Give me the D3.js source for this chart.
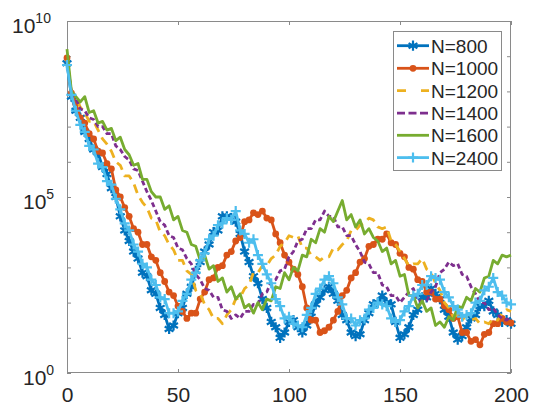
<!DOCTYPE html>
<html><head><meta charset="utf-8">
<script src="https://cdn.jsdelivr.net/npm/d3@7"></script>
<style>
body{margin:0;background:#fff}
svg{display:block}
text{font-family:"Liberation Sans",Arial,Helvetica,sans-serif;fill:#262626}
</style>
</head><body><svg id="c" width="536" height="408"></svg>
<script>
// x positions (iteration index)
const xSteps = [0,2,4,6,8,10,12,14,16,18,20,22,24,26,28,30,32,34,36,38,40,42,44,46,48,50,52,54,56,58,60,62,64,66,68,70,72,74,76,78,80,82,84,86,88,90,92,94,96,98,100,102,104,106,108,110,112,114,116,118,120,122,124,126,128,130,132,134,136,138,140,142,144,146,148,150,152,154,156,158,160,162,164,166,168,170,172,174,176,178,180,182,184,186,188,190,192,194,196,198,200];

// series values as log10 exponents (value = 10^e)
const n800 = [8.8,7.85,7.45,7.25,6.85,6.65,6.35,6.25,5.85,5.65,
5.25,5.0,4.45,4.05,3.75,3.45,3.25,2.85,2.75,2.35,
2.25,1.85,1.65,1.25,1.35,1.7,1.85,2.25,2.45,2.9,
3.15,3.45,3.65,4.0,4.05,4.45,4.45,4.4,4.3,3.95,
3.45,3.15,2.75,2.55,2.1,1.85,1.45,1.3,1.0,1.15,
1.45,1.5,1.3,1.15,1.35,1.6,1.95,2.15,2.35,2.45,
2.25,2.05,1.65,1.5,1.15,1.05,1.1,1.5,1.7,1.95,
2.0,2.2,2.0,1.95,1.45,1.0,1.1,1.3,1.65,1.8,
2.15,2.15,2.4,2.25,2.1,1.8,1.6,1.15,0.95,1.05,
1.3,1.55,1.65,1.9,1.9,2.05,1.75,1.65,1.45,1.5,1.4];

const n1000 = [8.95,7.95,7.65,7.25,7.1,6.8,6.65,6.3,6.25,5.95,
5.8,5.2,5.0,4.7,4.45,4.1,4.0,3.65,3.65,3.3,
3.2,2.85,2.6,2.3,2.2,1.9,1.75,1.55,1.7,1.7,
2.1,2.3,2.65,2.7,3.0,3.05,3.35,3.45,3.75,3.85,
4.3,4.35,4.55,4.5,4.6,4.4,4.35,3.95,3.7,3.35,
3.15,2.95,2.8,2.45,1.85,1.5,1.5,1.15,1.2,1.3,
1.5,1.75,2.2,2.35,2.7,2.85,3.15,3.25,3.6,3.65,
3.8,3.8,3.95,3.7,3.65,3.4,3.3,3.0,2.95,2.65,
2.6,2.3,2.3,2.1,2.1,1.9,1.8,1.55,1.6,1.15,
1.15,0.9,0.95,0.8,1.1,1.15,1.4,1.4,1.55,1.45,1.42];

const n1200 = [8.9,7.95,7.85,7.55,7.4,7.15,7.15,6.9,6.65,6.5,
6.3,6.0,5.9,5.6,5.6,5.4,5.05,4.85,4.7,4.4,
4.35,4.0,3.9,3.65,3.5,3.2,3.2,2.9,2.8,2.35,
2.25,1.95,1.8,1.55,1.55,1.4,1.65,1.8,2.1,2.15,
2.4,2.5,2.85,2.85,3.05,3.05,3.25,3.35,3.6,3.7,
3.9,3.85,3.9,3.55,3.55,3.35,3.3,3.2,3.3,3.3,
3.55,3.5,3.65,3.75,4.05,4.05,4.2,4.25,4.4,4.35,
4.15,4.1,4.15,3.75,3.65,3.45,3.25,3.05,3.1,3.1,
3.25,2.95,2.85,2.55,2.35,2.0,1.85,1.6,1.65,1.5,
1.65,1.5,1.55,1.4,1.45,1.4,1.55,1.5,1.7,1.8,1.75];

const n1400 = [8.85,7.95,7.8,7.5,7.45,7.25,7.2,7.0,7.0,6.8,
6.8,6.45,6.35,6.15,6.05,5.8,5.75,5.45,5.15,4.9,
4.6,4.3,4.2,3.9,3.85,3.55,3.5,3.25,3.1,2.8,
2.65,2.4,2.35,2.15,2.15,1.8,1.75,1.55,1.65,1.55,
1.75,1.75,1.95,1.95,2.25,2.3,2.6,2.65,2.9,2.95,
3.3,3.45,3.75,3.8,4.1,4.1,4.35,4.35,4.6,4.45,
4.45,4.15,4.15,3.9,3.9,3.65,3.45,3.15,3.1,2.85,
2.85,2.5,2.45,2.2,2.2,2.0,2.15,2.3,2.4,2.05,
2.05,2.05,2.3,2.45,2.85,2.95,3.15,3.05,3.1,2.8,
2.75,2.45,2.25,2.0,2.0,1.8,1.85,1.65,1.55,1.5,1.6];

const n1600 = [9.2,8.0,7.85,7.7,7.85,7.4,7.45,7.1,7.15,6.9,
6.95,6.6,6.7,6.35,6.2,5.9,5.95,5.5,5.5,5.15,
5.0,5.0,4.65,4.75,4.35,4.45,4.05,4.0,3.65,3.6,
3.2,3.35,2.95,3.05,2.6,2.7,2.3,2.45,2.1,2.25,
1.85,1.95,1.7,2.0,1.8,2.1,2.05,2.45,2.4,2.85,
2.65,3.0,2.9,3.35,3.3,3.8,3.7,4.1,4.0,4.45,
4.3,4.6,4.9,4.35,4.5,4.15,4.35,3.95,4.1,3.85,
3.75,3.45,3.55,3.1,3.2,2.75,2.8,2.2,2.2,1.85,
2.05,1.75,1.85,1.35,1.45,1.3,1.6,1.5,1.9,1.85,
2.15,2.05,2.4,2.3,2.7,2.75,3.2,3.1,3.35,3.3,3.35];

const n2400 = [8.75,7.9,7.45,7.05,6.85,6.45,6.35,5.95,5.85,5.45,
5.35,4.95,4.65,4.25,4.05,3.65,3.45,3.1,3.0,2.65,
2.5,2.15,2.1,1.7,1.7,1.75,2.05,2.25,2.65,2.85,
3.2,3.4,3.8,3.9,4.2,4.25,4.4,4.35,4.6,4.05,
3.95,3.7,3.8,3.35,3.1,2.8,2.55,2.1,1.9,1.55,
1.6,1.4,1.35,1.3,1.65,1.85,2.25,2.4,2.65,2.75,
2.55,2.15,1.95,1.55,1.55,1.35,1.5,1.55,1.8,1.85,
2.0,1.95,1.9,1.55,1.45,1.5,1.75,1.9,2.2,2.25,
2.5,2.5,2.75,2.7,2.65,2.3,2.15,1.9,1.8,1.6,
1.65,1.7,2.0,2.05,2.35,2.45,2.7,2.3,2.2,2.0,1.95];

const seriesNames = ["N=800","N=1000","N=1200","N=1400","N=1600","N=2400"];
const seriesValues = [n800,n1000,n1200,n1400,n1600,n2400];
const xTickValues = [0,50,100,150,200];
const yLabelExps = [0,5,10];
const yTickExps = [0,1,2,3,4,5,6,7,8,9,10];

const colors = ["#0072BD","#D95319","#EDB120","#7E2F8E","#77AC30","#4DBEEE"];
const dashes = [null,null,"9,6","5,3",null,null];
const legendDashes = [null,null,"9,15","8,3.5",null,null];
const markers = ["asterisk","circle",null,null,null,"plus"];

const svg = d3.select("#c");
const L=67, T=21, R=511, B=373;
const x = d3.scaleLinear().domain([0,200]).range([L,R]);
const y = d3.scaleLog().domain([1,1e10]).range([B,T]);

const axisColor = "#8a8a8a";
const gB = svg.append("g").attr("transform",`translate(0,${B})`)
  .call(d3.axisBottom(x).tickValues(xTickValues).tickSize(-4).tickPadding(14).tickFormat(d3.format("d")));
gB.selectAll("text").style("font-size","21px").attr("fill","#262626");
const gT = svg.append("g").attr("transform",`translate(0,${T})`)
  .call(d3.axisTop(x).tickValues(xTickValues).tickSize(-4).tickFormat(""));
const yTickVals = yTickExps.map(e=>Math.pow(10,e));
const gL = svg.append("g").attr("transform",`translate(${L},0)`)
  .call(d3.axisLeft(y).tickValues(yTickVals).tickSize(-4).tickFormat(""));
const gR = svg.append("g").attr("transform",`translate(${R},0)`)
  .call(d3.axisRight(y).tickValues(yTickVals).tickSize(-4).tickFormat(""));
[gB,gT,gL,gR].forEach(g=>{
  g.select(".domain").remove();
  g.selectAll(".tick line").attr("stroke",axisColor).attr("stroke-width",1);
});

yLabelExps.forEach(e=>{
  const py = y(Math.pow(10,e));
  const sx = String(e).length>1 ? 12 : 23;
  const t = svg.append("text").attr("x",sx).attr("y",py+12).style("font-size","21px");
  t.append("tspan").text("10");
  t.append("tspan").attr("dy",-10).style("font-size","14px").text(String(e));
});

svg.append("rect").attr("x",L+0.5).attr("y",T+0.5).attr("width",R-L-1).attr("height",B-T-1)
  .attr("fill","none").attr("stroke",axisColor).attr("stroke-width",1);

const symAsterisk = {draw(ctx,size){const r=Math.sqrt(size)*0.6;const t=r/2,u=t*Math.sqrt(3);
  ctx.moveTo(0,r);ctx.lineTo(0,-r);ctx.moveTo(-u,-t);ctx.lineTo(u,t);ctx.moveTo(-u,t);ctx.lineTo(u,-t);}};
const symPlus = {draw(ctx,size){const r=Math.sqrt(size)*0.6;
  ctx.moveTo(-r,0);ctx.lineTo(r,0);ctx.moveTo(0,-r);ctx.lineTo(0,r);}};

const line = d3.line().x((d,i)=>x(xSteps[i])).y(d=>y(Math.pow(10,d)));

function drawMarkers(g, pts, k){
  const m = markers[k];
  if(!m) return;
  if(m==="circle"){
    g.selectAll("circle.m").data(pts).join("circle").attr("class","m")
      .attr("cx",d=>d[0]).attr("cy",d=>d[1]).attr("r",3.4).attr("fill",colors[k]);
  } else {
    const p = d3.symbol().type(m==="asterisk"?symAsterisk:symPlus).size(m==="asterisk"?72:70)();
    g.selectAll("path.m").data(pts).join("path").attr("class","m")
      .attr("transform",d=>`translate(${d[0]},${d[1]})`).attr("d",p)
      .attr("fill","none").attr("stroke",colors[k]).attr("stroke-width",2.2);
  }
}

seriesValues.forEach((vals,k)=>{
  const g = svg.append("g");
  g.append("path").attr("d",line(vals)).attr("fill","none").attr("stroke",colors[k])
    .attr("stroke-width",2.8).attr("stroke-linejoin","round")
    .attr("stroke-dasharray",dashes[k]);
  const pts = vals.map((v,i)=>[x(xSteps[i]), y(Math.pow(10,v))]);
  drawMarkers(g,pts,k);
});

const lg = svg.append("g");
lg.append("rect").attr("x",393.5).attr("y",31.5).attr("width",108).attr("height",139)
  .attr("fill","#fff").attr("stroke",axisColor).attr("stroke-width",1);
const rowY = [45.7,68.3,90.7,113.2,135.3,157.6];
seriesNames.forEach((name,k)=>{
  const cy = rowY[k];
  const g = lg.append("g");
  g.append("line").attr("x1",397).attr("x2",429).attr("y1",cy).attr("y2",cy)
    .attr("stroke",colors[k]).attr("stroke-width",2.8).attr("stroke-dasharray",legendDashes[k]);
  drawMarkers(g,[[413,cy]],k);
  g.append("text").attr("x",431).attr("y",cy+7).style("font-size","19px").text(name);
});
</script>
</body></html>
